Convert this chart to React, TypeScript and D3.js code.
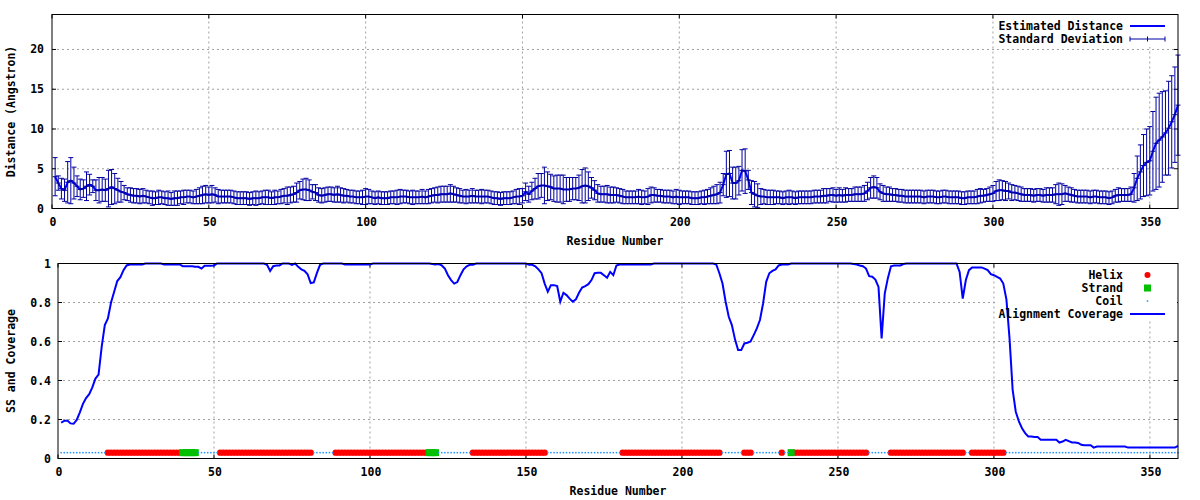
import React from 'react';
import * as d3 from 'd3';

// residue numbering 1..359
const residues = d3.range(1, 360);

// estimated distance (Angstrom) per residue
const distance = [
  4.0, 3.2, 2.5, 2.3, 3.3, 3.5, 3.2, 2.8, 2.4, 2.5,
  2.8, 3.0, 2.8, 2.3, 2.3, 2.4, 2.3, 2.5, 2.7, 2.5,
  2.3, 2.1, 2.0, 1.8, 1.7, 1.6, 1.6, 1.5, 1.6, 1.5,
  1.4, 1.3, 1.3, 1.4, 1.4, 1.3, 1.3, 1.2, 1.3, 1.3,
  1.4, 1.4, 1.5, 1.5, 1.4, 1.5, 1.6, 1.7, 1.8, 1.7,
  1.8, 1.7, 1.5, 1.5, 1.5, 1.5, 1.5, 1.4, 1.3, 1.3,
  1.3, 1.3, 1.2, 1.3, 1.3, 1.3, 1.4, 1.4, 1.4, 1.3,
  1.4, 1.4, 1.5, 1.6, 1.6, 1.7, 1.8, 2.0, 2.3, 2.4,
  2.4, 2.3, 2.1, 2.0, 1.7, 1.6, 1.7, 1.8, 1.8, 1.7,
  1.8, 1.7, 1.6, 1.6, 1.5, 1.5, 1.4, 1.4, 1.4, 1.5,
  1.5, 1.4, 1.3, 1.4, 1.3, 1.3, 1.3, 1.4, 1.4, 1.4,
  1.5, 1.5, 1.5, 1.4, 1.4, 1.4, 1.4, 1.5, 1.4, 1.5,
  1.6, 1.7, 1.7, 1.8, 1.8, 1.8, 1.9, 1.8, 1.7, 1.6,
  1.5, 1.5, 1.5, 1.6, 1.5, 1.5, 1.5, 1.5, 1.5, 1.4,
  1.3, 1.3, 1.2, 1.3, 1.3, 1.3, 1.4, 1.5, 1.5, 1.6,
  2.1, 1.8, 2.2, 2.5, 2.8, 2.9, 2.9, 2.8, 2.7, 2.5,
  2.5, 2.5, 2.4, 2.4, 2.4, 2.5, 2.5, 2.6, 2.8, 2.9,
  2.8, 2.6, 2.3, 1.9, 1.8, 1.8, 1.8, 1.7, 1.7, 1.7,
  1.6, 1.5, 1.4, 1.4, 1.4, 1.4, 1.5, 1.4, 1.4, 1.5,
  1.7, 1.7, 1.6, 1.6, 1.5, 1.5, 1.5, 1.4, 1.5, 1.4,
  1.4, 1.4, 1.4, 1.3, 1.3, 1.3, 1.4, 1.4, 1.5, 1.6,
  1.7, 1.8, 2.0, 3.0, 4.3, 4.4, 3.2, 3.2, 3.5, 4.8,
  4.7, 3.6, 2.0, 1.8, 1.6, 1.5, 1.5, 1.4, 1.4, 1.4,
  1.4, 1.4, 1.3, 1.4, 1.4, 1.4, 1.3, 1.4, 1.4, 1.4,
  1.4, 1.4, 1.5, 1.5, 1.5, 1.6, 1.6, 1.7, 1.7, 1.6,
  1.7, 1.6, 1.7, 1.7, 1.7, 1.8, 1.8, 1.8, 1.9, 2.2,
  2.6, 2.7, 2.6, 2.1, 1.9, 1.8, 1.8, 1.7, 1.7, 1.6,
  1.6, 1.5, 1.5, 1.5, 1.5, 1.5, 1.5, 1.4, 1.5, 1.5,
  1.5, 1.4, 1.4, 1.5, 1.5, 1.4, 1.4, 1.4, 1.4, 1.3,
  1.3, 1.4, 1.4, 1.4, 1.5, 1.6, 1.6, 1.7, 1.8, 1.9,
  2.2, 2.3, 2.3, 2.2, 2.2, 2.0, 2.0, 1.9, 1.8, 1.7,
  1.7, 1.7, 1.6, 1.7, 1.7, 1.6, 1.7, 1.7, 1.7, 1.8,
  1.8, 1.8, 1.9, 1.8, 1.7, 1.6, 1.5, 1.5, 1.5, 1.5,
  1.4, 1.5, 1.5, 1.4, 1.4, 1.4, 1.3, 1.4, 1.6, 1.7,
  1.7, 1.7, 1.7, 1.8, 2.6, 3.8, 4.6, 5.4, 5.8, 6.0,
  7.2, 8.2, 8.6, 9.0, 9.5, 10.1, 10.9, 11.8, 13.0,
];

// standard deviation per residue
const deviation = [
  2.4, 0.9, 1.3, 1.4, 2.6, 2.9, 2.0, 1.3, 1.3, 1.1,
  1.8, 1.3, 0.8, 1.3, 1.6, 1.5, 1.4, 2.3, 2.2, 1.9,
  1.5, 1.3, 0.9, 0.8, 0.9, 0.9, 0.9, 0.9, 0.9, 0.8,
  0.8, 0.9, 0.8, 0.9, 0.8, 0.8, 0.9, 0.8, 0.9, 0.9,
  0.8, 0.9, 0.8, 0.8, 0.8, 0.9, 1.0, 1.1, 1.1, 1.0,
  1.1, 0.9, 0.9, 0.8, 0.8, 0.8, 0.8, 0.8, 0.8, 0.8,
  0.8, 0.8, 0.8, 0.8, 0.9, 0.8, 0.8, 0.9, 0.9, 0.8,
  0.9, 0.8, 0.9, 0.9, 1.1, 1.0, 1.0, 1.2, 1.1, 1.3,
  1.4, 1.3, 0.9, 1.0, 0.9, 0.9, 0.9, 0.9, 0.9, 0.9,
  1.0, 0.9, 0.9, 0.8, 0.8, 0.8, 0.8, 0.8, 0.9, 1.0,
  0.9, 0.8, 0.8, 0.8, 0.8, 0.8, 0.8, 0.8, 0.8, 0.9,
  0.9, 0.8, 0.8, 0.8, 0.9, 0.8, 0.8, 0.9, 0.8, 0.9,
  0.9, 0.9, 1.0, 1.0, 1.0, 1.0, 1.1, 1.0, 0.9, 0.9,
  0.8, 0.9, 0.8, 0.9, 0.8, 0.8, 0.9, 0.8, 0.8, 0.8,
  0.8, 0.8, 0.8, 0.8, 0.8, 0.8, 0.8, 0.9, 1.0, 0.9,
  1.1, 1.0, 1.1, 1.3, 1.6, 1.5, 2.3, 1.8, 1.6, 1.6,
  1.7, 1.7, 1.8, 1.5, 1.5, 1.4, 1.4, 1.6, 2.1, 2.2,
  1.8, 1.3, 1.2, 1.1, 1.0, 1.0, 1.1, 1.0, 1.0, 0.9,
  0.9, 0.9, 0.8, 0.8, 0.8, 0.8, 0.9, 0.9, 0.8, 1.0,
  1.0, 0.9, 0.8, 0.8, 0.8, 0.8, 0.8, 0.8, 0.9, 0.9,
  0.8, 0.8, 0.8, 0.8, 0.8, 0.8, 0.8, 0.9, 0.9, 1.0,
  1.1, 1.2, 1.3, 1.4, 2.9, 2.9, 2.0, 2.0, 1.8, 2.6,
  2.8, 1.2, 1.5, 1.6, 1.5, 1.0, 0.9, 0.9, 0.9, 0.9,
  0.8, 0.8, 0.8, 0.8, 0.9, 0.8, 0.8, 0.8, 0.8, 0.8,
  0.8, 0.8, 0.8, 0.8, 0.8, 0.9, 0.9, 0.8, 0.9, 0.8,
  0.9, 0.8, 0.9, 0.8, 0.8, 0.9, 0.9, 0.9, 1.0, 1.1,
  1.3, 1.4, 1.3, 1.0, 1.0, 0.9, 0.9, 0.8, 0.8, 0.8,
  0.8, 0.8, 0.8, 0.8, 0.8, 0.8, 0.8, 0.8, 0.8, 0.8,
  0.8, 0.8, 0.8, 0.8, 0.8, 0.8, 0.8, 0.8, 0.8, 0.8,
  0.8, 0.8, 0.8, 0.8, 0.9, 0.9, 0.8, 0.8, 0.9, 1.0,
  1.2, 1.3, 1.2, 1.2, 1.0, 1.0, 0.9, 0.9, 0.9, 0.8,
  0.8, 0.8, 0.8, 0.8, 0.8, 0.8, 0.9, 0.9, 0.9, 1.2,
  1.4, 1.3, 1.0, 0.9, 0.9, 0.8, 0.8, 0.8, 0.8, 0.8,
  0.8, 0.8, 0.8, 0.8, 0.8, 0.8, 0.8, 0.8, 0.8, 0.9,
  0.8, 0.8, 0.8, 0.9, 1.8, 2.8, 3.4, 3.9, 4.2, 4.3,
  5.0, 5.8, 5.9, 5.7, 5.3, 5.9, 5.8, 6.0, 6.3,
];

// alignment coverage per residue
const coverage = [
  0.184, 0.193, 0.195, 0.18, 0.178, 0.198, 0.237, 0.28, 0.31, 0.33,
  0.365, 0.41, 0.43, 0.573, 0.684, 0.718, 0.8, 0.855, 0.91, 0.93,
  0.966, 0.99, 0.995, 0.995, 0.995, 0.995, 0.995, 1, 1, 1,
  1, 1, 1, 0.995, 0.995, 0.995, 0.995, 0.995, 0.995, 0.986,
  0.986, 0.986, 0.986, 0.983, 0.983, 0.974, 0.988, 0.988, 0.988, 0.99,
  1, 1, 1, 1, 1, 1, 1, 1, 1, 1,
  1, 1, 1, 1, 1, 1, 0.993, 0.962, 0.986, 0.99,
  0.99, 1, 1, 1, 0.993, 1, 0.983, 0.97, 0.962, 0.945,
  0.9, 0.903, 0.952, 0.993, 1, 1, 1, 1, 1, 1,
  1, 0.995, 0.995, 0.995, 0.995, 0.995, 0.995, 0.995, 0.995, 0.995,
  1, 1, 1, 1, 1, 1, 1, 1, 1, 1,
  1, 1, 1, 1, 1, 1, 1, 1, 1, 0.997,
  0.995, 0.997, 0.99, 0.974, 0.94, 0.915, 0.897, 0.905, 0.94, 0.97,
  0.986, 0.993, 0.993, 1, 1, 1, 1, 1, 1, 1,
  1, 1, 1, 1, 1, 1, 1, 1, 1, 1,
  0.993, 0.993, 0.986, 0.97, 0.95, 0.897, 0.855, 0.889, 0.889, 0.884,
  0.804, 0.85, 0.838, 0.82, 0.804, 0.816, 0.85, 0.877, 0.884, 0.894,
  0.915, 0.95, 0.952, 0.952, 0.94, 0.927, 0.957, 0.94, 0.99, 0.995,
  0.995, 0.995, 0.995, 0.995, 0.995, 0.995, 0.995, 0.995, 0.995, 0.995,
  1, 1, 1, 1, 1, 1, 1, 1, 1, 1,
  1, 1, 1, 1, 1, 1, 1, 1, 1, 1,
  0.995, 0.95, 0.897, 0.804, 0.727, 0.684, 0.611, 0.556, 0.556, 0.59,
  0.594, 0.6, 0.633, 0.667, 0.71, 0.795, 0.906, 0.95, 0.962, 0.97,
  0.99, 0.995, 0.995, 0.995, 1, 1, 1, 1, 1, 1,
  1, 1, 1, 1, 1, 1, 1, 1, 1, 1,
  1, 1, 1, 1, 0.997, 0.995, 0.99, 0.986, 0.974, 0.935,
  0.932, 0.918, 0.88, 0.616, 0.846, 0.925, 0.986, 0.99, 0.99, 0.99,
  0.997, 1, 1, 1, 1, 1, 1, 1, 1, 1,
  1, 1, 1, 1, 1, 1, 1, 1, 0.957, 0.82,
  0.915, 0.966, 0.98, 0.98, 0.98, 0.98, 0.974, 0.966, 0.945, 0.94,
  0.932, 0.923, 0.897, 0.816, 0.616, 0.352, 0.24, 0.19, 0.155, 0.13,
  0.113, 0.113, 0.11, 0.11, 0.096, 0.096, 0.096, 0.096, 0.096, 0.096,
  0.082, 0.087, 0.096, 0.089, 0.082, 0.082, 0.08, 0.07, 0.068, 0.068,
  0.068, 0.056, 0.061, 0.061, 0.061, 0.061, 0.061, 0.061, 0.061, 0.061,
  0.061, 0.061, 0.056, 0.056, 0.056, 0.056, 0.056, 0.056, 0.056, 0.056,
  0.056, 0.056, 0.056, 0.056, 0.056, 0.056, 0.056, 0.056, 0.065,
];

// secondary structure, residue ranges [first, last]
const helixSegments = [
  [16, 39], [52, 81], [89, 118], [133, 156], [181, 212],
  [220, 222], [232, 232], [236, 259], [267, 290], [293, 303],
];
const strandSegments = [[40, 44], [119, 121], [235, 235]];
const ssLevel = 0.03;

const xTicks = [0, 50, 100, 150, 200, 250, 300, 350];
const distTicks = [0, 5, 10, 15, 20];
const covTicks = [0, 0.2, 0.4, 0.6, 0.8, 1];

const FONT = "'DejaVu Sans Mono', 'Liberation Mono', monospace";
const GRID = '#a0a0a0';
const BLUE = '#0000ff';
const BAR = '#0000a0';

const inSeg = (segs: number[][], r: number) => segs.some(([a, b]) => r >= a && r <= b);
const ssType = residues.map(r => (inSeg(strandSegments, r) ? 'E' : inSeg(helixSegments, r) ? 'H' : 'C'));

const txt = { fontFamily: FONT, fontWeight: 700 as const, fontSize: 11.5, fill: '#000' };

function Frame({ x, y, yTicks, fmt, yLabel, labelRight }: any) {
  const [x0, x1] = x.range();
  const [yb, yt] = y.range();
  const ymax = y.domain()[1];
  const tl = 4;
  return (
    <g>
      {xTicks.filter(t => t > 0).map(t => (
        <line key={'gx' + t} x1={x(t)} x2={x(t)} y1={yb} y2={yt} stroke={GRID} strokeDasharray="2,3" />
      ))}
      {yTicks.filter((t: number) => t > 0 && t < ymax).map((t: number) => (
        <line key={'gy' + t} x1={x0} x2={x1} y1={y(t)} y2={y(t)} stroke={GRID} strokeDasharray="2,3" />
      ))}
      {xTicks.map(t => (
        <g key={'tx' + t}>
          <line x1={x(t)} x2={x(t)} y1={yb} y2={yb - tl} stroke="#000" />
          <line x1={x(t)} x2={x(t)} y1={yt} y2={yt + tl} stroke="#000" />
          <text x={x(t) + 1} y={yb + 17.5} textAnchor="middle" style={txt}>{t}</text>
        </g>
      ))}
      {yTicks.map((t: number) => (
        <g key={'ty' + t}>
          <line x1={x0} x2={x0 + tl} y1={y(t)} y2={y(t)} stroke="#000" />
          <line x1={x1} x2={x1 - tl} y1={y(t)} y2={y(t)} stroke="#000" />
          <text x={labelRight} y={y(t) + 4} textAnchor="end" style={txt}>{fmt(t)}</text>
        </g>
      ))}
      <text x={(x0 + x1) / 2} y={yb + 36.5} textAnchor="middle" style={txt}>Residue Number</text>
      <text
        transform={`translate(15,${(yb + yt) / 2}) rotate(-90)`}
        textAnchor="middle"
        style={txt}
      >
        {yLabel}
      </text>
    </g>
  );
}

export default function App() {
  const xTop = d3.scaleLinear().domain([0, 359]).range([52, 1178]);
  const yTop = d3.scaleLinear().domain([0, 24.4]).range([208.5, 14.5]);
  const xBot = d3.scaleLinear().domain([0, 359]).range([58, 1178]);
  const yBot = d3.scaleLinear().domain([0, 1]).range([458.5, 263.5]);

  const distLine = d3.line<number>().x((_, i) => xTop(residues[i])).y(d => yTop(d))(distance) || '';
  const covLine = d3.line<number>().x((_, i) => xBot(residues[i])).y(d => yBot(d))(coverage) || '';

  const cap = 2.5;
  const ssY = yBot(ssLevel);
  const keyX0 = 1130;
  const keyX1 = 1165;
  const keyMid = (keyX0 + keyX1) / 2;

  return (
    <svg width={1200} height={500} style={{ position: 'absolute', left: 0, top: 0, background: '#fff' }}>
      <rect width={1200} height={500} fill="#fff" />

      {/* top: distance */}
      <Frame x={xTop} y={yTop} yTicks={distTicks} fmt={(t: number) => String(t)} yLabel="Distance (Angstron)" labelRight={44} />
      <rect x={996} y={15} width={181} height={32} fill="#fff" />
      <path d={distLine} fill="none" stroke={BLUE} strokeWidth={2} />
      <g stroke={BAR} strokeWidth={1}>
        {residues.map((r, i) => {
          const cx = xTop(r);
          const hi = yTop(distance[i] + deviation[i]);
          const lo = yTop(distance[i] - deviation[i]);
          const m = yTop(distance[i]);
          return (
            <g key={r}>
              <line x1={cx} x2={cx} y1={lo} y2={hi} />
              <line x1={cx - cap} x2={cx + cap} y1={hi} y2={hi} />
              <line x1={cx - cap} x2={cx + cap} y1={lo} y2={lo} />
              <line x1={cx - cap} x2={cx + cap} y1={m} y2={m} />
            </g>
          );
        })}
      </g>
      <text x={1123} y={30} textAnchor="end" style={txt}>Estimated Distance</text>
      <line x1={keyX0} x2={keyX1} y1={26} y2={26} stroke={BLUE} strokeWidth={2} />
      <text x={1123} y={43} textAnchor="end" style={txt}>Standard Deviation</text>
      <g stroke={BAR}>
        <line x1={keyX0} x2={keyX1} y1={39} y2={39} />
        <line x1={keyX0} x2={keyX0} y1={36.5} y2={41.5} />
        <line x1={keyX1} x2={keyX1} y1={36.5} y2={41.5} />
        <line x1={keyMid} x2={keyMid} y1={36.5} y2={41.5} />
      </g>
      <rect x={52} y={14.5} width={1126} height={194} fill="none" stroke="#000" />

      {/* bottom: secondary structure and coverage */}
      <Frame x={xBot} y={yBot} yTicks={covTicks} fmt={(t: number) => (t === 0 || t === 1 ? String(t) : t.toFixed(1))} yLabel="SS and Coverage" labelRight={51} />
      <rect x={996} y={264} width={181} height={56} fill="#fff" />
      {residues.map((r, i) =>
        ssType[i] === 'H' ? <circle key={'h' + r} cx={xBot(r)} cy={ssY} r={3.2} fill="#ff0000" /> : null
      )}
      {residues.map((r, i) =>
        ssType[i] === 'E' ? <rect key={'e' + r} x={xBot(r) - 3.5} y={ssY - 3.5} width={7} height={7} fill="#00c000" /> : null
      )}
      {residues.map((r, i) =>
        ssType[i] === 'C' ? <rect key={'c' + r} x={xBot(r) - 0.75} y={ssY - 0.75} width={1.5} height={1.5} fill="#1e90ff" /> : null
      )}
      <path d={covLine} fill="none" stroke={BLUE} strokeWidth={2} />
      <text x={1123} y={279} textAnchor="end" style={txt}>Helix</text>
      <circle cx={keyMid} cy={275} r={3} fill="#ff0000" />
      <text x={1123} y={292} textAnchor="end" style={txt}>Strand</text>
      <rect x={keyMid - 3.5} y={284.5} width={7} height={7} fill="#00c000" />
      <text x={1123} y={305} textAnchor="end" style={txt}>Coil</text>
      <rect x={keyMid - 0.75} y={300.25} width={1.5} height={1.5} fill="#1e90ff" />
      <text x={1123} y={318} textAnchor="end" style={txt}>Alignment Coverage</text>
      <line x1={keyX0} x2={keyX1} y1={314} y2={314} stroke={BLUE} strokeWidth={2} />
      <rect x={58} y={263.5} width={1120} height={195} fill="none" stroke="#000" />
    </svg>
  );
}
